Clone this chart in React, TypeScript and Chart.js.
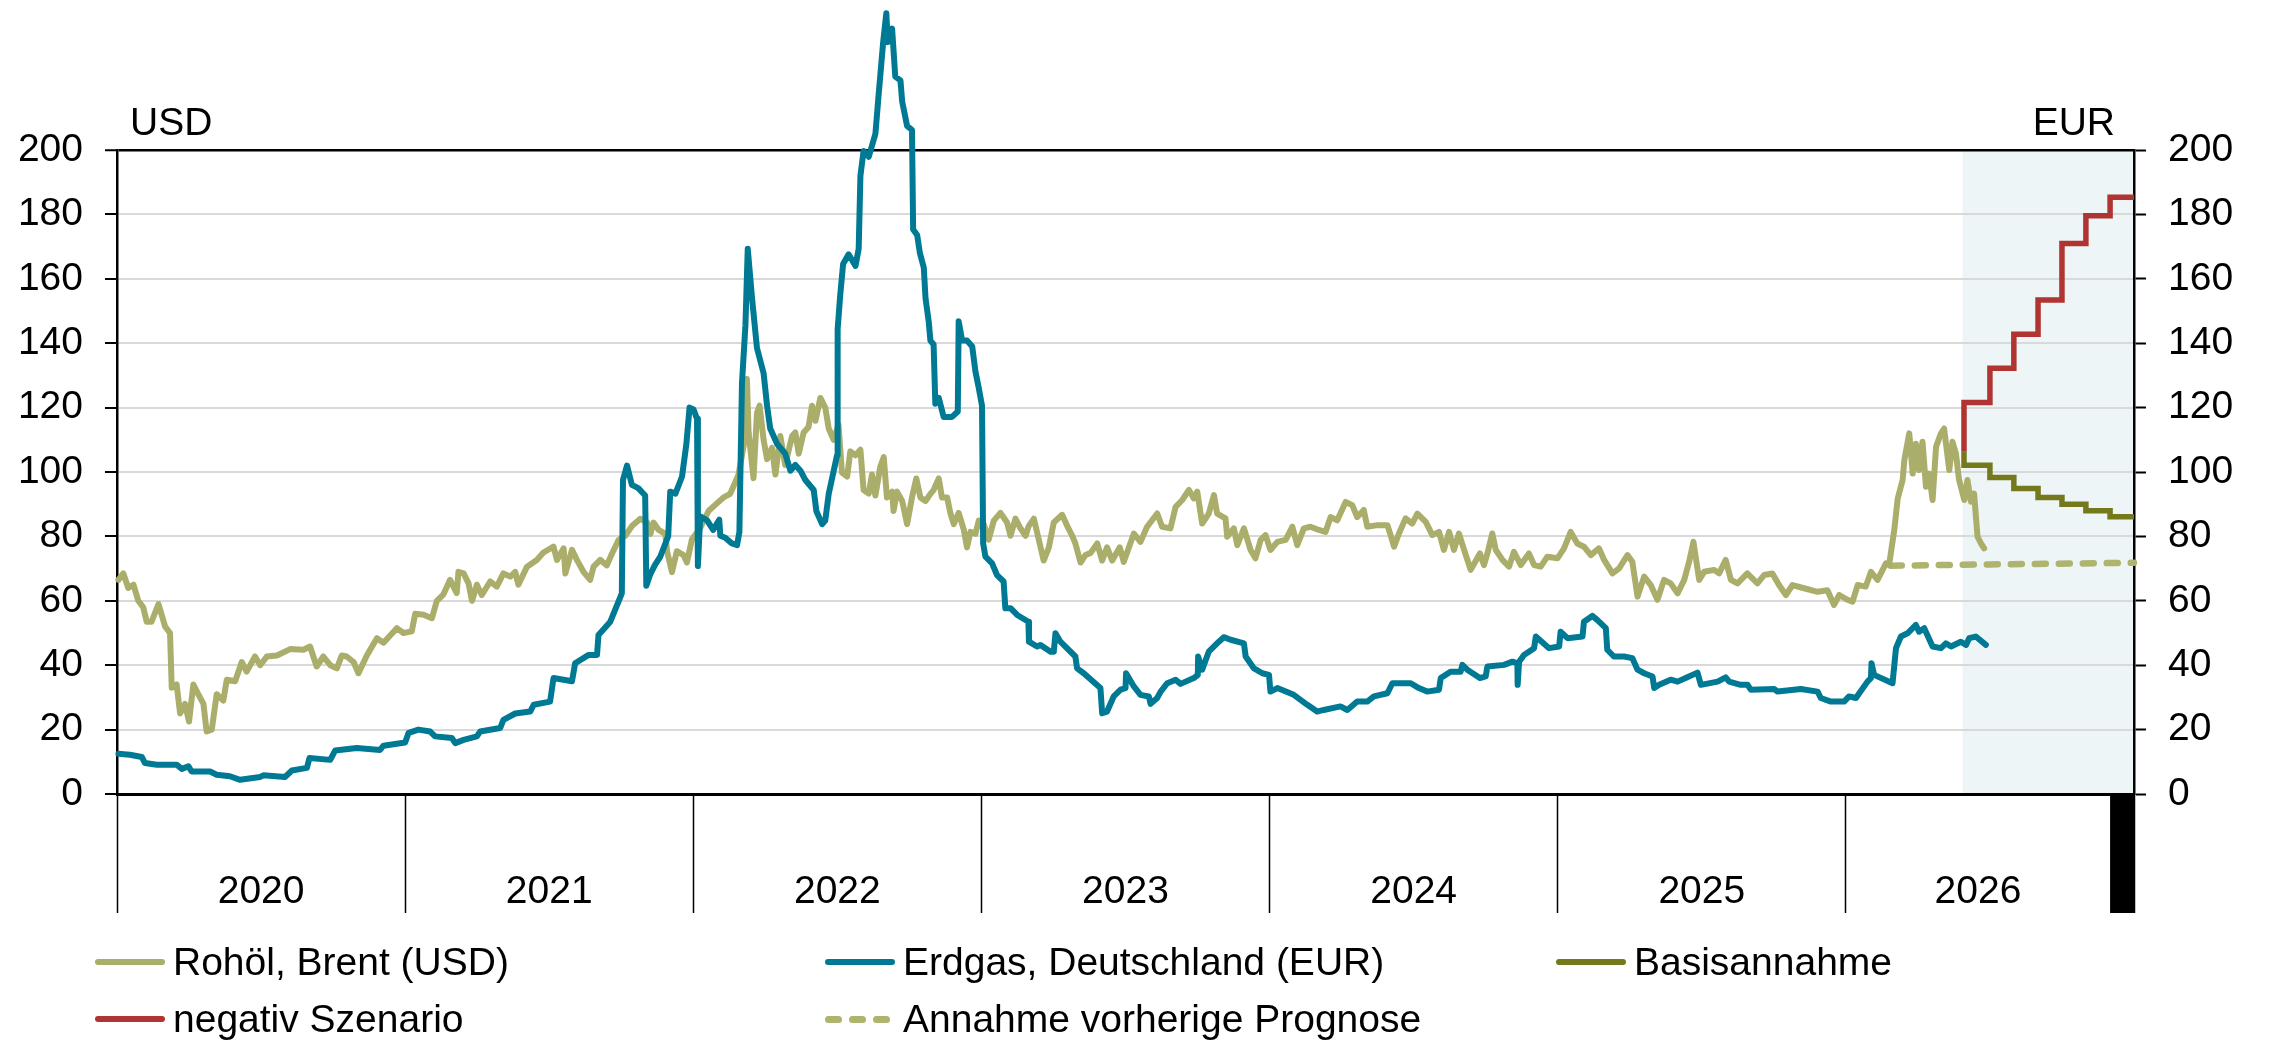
import React, { useEffect, useRef } from 'react';
import { Chart, registerables } from 'chart.js';

Chart.register(...registerables);

const FONT = '"Liberation Sans", Arial, Helvetica, sans-serif';

// ---------- data ----------
const brentDates = [
  2020.005, 2020.022, 2020.039, 2020.057, 2020.074, 2020.091, 2020.103, 2020.120, 2020.144, 2020.167,
  2020.184, 2020.190, 2020.207, 2020.219, 2020.236, 2020.250, 2020.265, 2020.282, 2020.300, 2020.311,
  2020.329, 2020.346, 2020.369, 2020.381, 2020.410, 2020.433, 2020.450, 2020.479, 2020.497, 2020.520,
  2020.555, 2020.601, 2020.647, 2020.670, 2020.693, 2020.716, 2020.740, 2020.763, 2020.780, 2020.797,
  2020.821, 2020.838, 2020.867, 2020.902, 2020.925, 2020.971, 2020.994, 2021.023, 2021.035, 2021.064,
  2021.093, 2021.110, 2021.133, 2021.156, 2021.179, 2021.185, 2021.203, 2021.220, 2021.232, 2021.249,
  2021.266, 2021.295, 2021.318, 2021.341, 2021.365, 2021.382, 2021.393, 2021.423, 2021.457, 2021.480,
  2021.515, 2021.527, 2021.550, 2021.556, 2021.579, 2021.596, 2021.619, 2021.642, 2021.654, 2021.677,
  2021.700, 2021.718, 2021.741, 2021.764, 2021.787, 2021.816, 2021.839, 2021.851, 2021.862, 2021.880,
  2021.903, 2021.909, 2021.926, 2021.943, 2021.966, 2021.978, 2021.995, 2022.024, 2022.053, 2022.076,
  2022.105, 2022.128, 2022.146, 2022.157, 2022.181, 2022.186, 2022.192, 2022.209, 2022.221, 2022.230,
  2022.244, 2022.256, 2022.273, 2022.285, 2022.302, 2022.319, 2022.343, 2022.354, 2022.366, 2022.383,
  2022.400, 2022.412, 2022.424, 2022.441, 2022.458, 2022.470, 2022.487, 2022.504, 2022.516, 2022.534,
  2022.545, 2022.563, 2022.580, 2022.591, 2022.609, 2022.620, 2022.632, 2022.649, 2022.661, 2022.672,
  2022.690, 2022.695, 2022.707, 2022.725, 2022.742, 2022.759, 2022.774, 2022.788, 2022.806, 2022.823,
  2022.834, 2022.852, 2022.863, 2022.881, 2022.892, 2022.904, 2022.921, 2022.939, 2022.950, 2022.962,
  2022.979, 2022.991, 2023.008, 2023.025, 2023.043, 2023.066, 2023.089, 2023.101, 2023.118, 2023.135,
  2023.153, 2023.164, 2023.182, 2023.199, 2023.216, 2023.234, 2023.251, 2023.280, 2023.298, 2023.315,
  2023.326, 2023.344, 2023.361, 2023.378, 2023.402, 2023.419, 2023.436, 2023.454, 2023.480, 2023.494,
  2023.529, 2023.552, 2023.575, 2023.610, 2023.627, 2023.656, 2023.674, 2023.697, 2023.720, 2023.737,
  2023.749, 2023.766, 2023.789, 2023.807, 2023.818, 2023.847, 2023.853, 2023.876, 2023.888, 2023.911,
  2023.934, 2023.951, 2023.969, 2023.986, 2024.003, 2024.027, 2024.056, 2024.079, 2024.096, 2024.119,
  2024.142, 2024.171, 2024.194, 2024.212, 2024.235, 2024.264, 2024.287, 2024.304, 2024.327, 2024.339,
  2024.374, 2024.409, 2024.420, 2024.432, 2024.449, 2024.472, 2024.495, 2024.513, 2024.542, 2024.565,
  2024.588, 2024.605, 2024.623, 2024.640, 2024.657, 2024.681, 2024.698, 2024.730, 2024.744, 2024.756,
  2024.773, 2024.785, 2024.808, 2024.831, 2024.848, 2024.872, 2024.900, 2024.918, 2024.941, 2024.964,
  2024.999, 2025.022, 2025.045, 2025.068, 2025.091, 2025.115, 2025.143, 2025.161, 2025.190, 2025.213,
  2025.242, 2025.259, 2025.277, 2025.300, 2025.323, 2025.346, 2025.369, 2025.392, 2025.416, 2025.439,
  2025.456, 2025.471, 2025.491, 2025.508, 2025.543, 2025.560, 2025.583, 2025.601, 2025.624, 2025.658,
  2025.693, 2025.716, 2025.745, 2025.768, 2025.792, 2025.815, 2025.855, 2025.902, 2025.936, 2025.959,
  2025.977, 2026.006, 2026.023, 2026.041, 2026.069, 2026.087, 2026.110, 2026.139, 2026.150, 2026.168,
  2026.180, 2026.197, 2026.203, 2026.220, 2026.232, 2026.243, 2026.254, 2026.266, 2026.278, 2026.289,
  2026.301, 2026.313, 2026.330, 2026.341, 2026.359, 2026.370, 2026.382, 2026.393, 2026.411, 2026.422,
  2026.434, 2026.445, 2026.457, 2026.469, 2026.480,
];
const brentValues = [
  66.5, 68.5, 64, 65, 60, 58, 53.5, 53.5, 59, 52,
  50, 33, 34, 25, 28, 22.5, 34, 31, 28, 19.4,
  20, 31, 29, 35.5, 35, 41, 38, 42.7, 40, 42.7,
  43, 45, 44.8, 45.8, 39.6, 42.7, 40, 39, 43, 42.7,
  41, 37.5, 43, 48.4, 47, 51.5, 50, 50.5, 56, 55.7,
  54.6, 60, 62, 66.5, 62.4, 69, 68.5, 65.4, 60, 65,
  61.8, 66, 64.4, 68.5, 67.5, 69, 65, 70.6, 72.7, 75,
  76.8, 72.7, 76.3, 68.5, 75.8, 72.7, 69, 66.5, 70.6, 72.7,
  71, 74.7, 78.9, 80.2, 83.2, 85.5, 84.4, 80.8, 84.3, 82,
  80.8, 75.4, 68.9, 75.4, 74.2, 71.9, 79, 82.6, 87.9, 89.8,
  92.1, 93.2, 96.9, 99.2, 111.2, 128.9, 112.3, 98.1, 118.3, 120.6,
  110, 104, 107.5, 99.2, 111.2, 102.2, 111.2, 112.3, 105.7, 112.3,
  114, 120.6, 115.9, 123, 120, 113.5, 110, 114.7, 99.8, 98.6,
  106.4, 105.2, 106.9, 94.4, 93.3, 99.2, 92.7, 101.6, 104.6, 92.1,
  93.9, 87.9, 93.9, 91, 83.8, 92.1, 98, 92.1, 91, 93.2,
  94.4, 98, 92.1, 92.1, 87.3, 83.8, 87.3, 82, 76.6, 81.4,
  80.8, 84.9, 83.8, 79, 84.9, 87.3, 84.3, 80.2, 85.5, 82.6,
  80.2, 83.2, 85.5, 79, 72.5, 76.6, 84.3, 86.7, 83.2, 80.2,
  77.8, 71.9, 74.2, 74.8, 77.8, 72.5, 76.6, 72.5, 76.6, 72.1,
  80.9, 78.3, 83, 87.1, 83, 82.5, 89.2, 91.3, 94.4, 91.8,
  93.9, 84, 87.1, 92.8, 87.1, 85.6, 79.9, 82.5, 77.3, 82.5,
  75.8, 73.2, 78.9, 80.4, 75.8, 78.3, 78.9, 83, 77.3, 82.5,
  83, 82, 81.4, 86, 85, 90.7, 89.7, 86, 88.2, 83,
  83.5, 83.5, 80.4, 76.8, 80.9, 85.6, 84, 87.1, 84.5, 80.4,
  81.4, 75.8, 81.4, 75.8, 80.9, 74.2, 69.6, 74.7, 71.1, 74.7,
  80.9, 75.8, 72.7, 70.6, 75.2, 71.1, 74.7, 71.1, 70.6, 73.7,
  73.2, 76.3, 81.4, 77.8, 76.8, 74.2, 76.3, 72.7, 68.5, 70.1,
  74.2, 72.1, 61.3, 67.5, 64.9, 60.3, 66.5, 65.4, 62.3, 66.5,
  72.1, 78.3, 66.5, 69, 69.6, 68.5, 72.7, 66.5, 65.4, 68.5,
  65.4, 68, 68.5, 64.9, 61.8, 64.9, 63.9, 62.8, 63.3, 58.7,
  61.8, 60.3, 59.7, 64.9, 64.4, 69, 66.5, 71.6, 71.1, 82,
  91.8, 97.5, 103.7, 112, 99.5, 108.8, 100.6, 109.4, 95.4, 99.5,
  91.3, 107.8, 112, 113.5, 100.6, 109.4, 105.7, 97.5, 91.3, 97.5,
  90.8, 93.3, 79.9, 77.8, 76.3,
];

const gasDates = [
  2020.005, 2020.045, 2020.086, 2020.097, 2020.138, 2020.207, 2020.225, 2020.248, 2020.259, 2020.323,
  2020.346, 2020.392, 2020.427, 2020.497, 2020.508, 2020.583, 2020.607, 2020.659, 2020.668, 2020.740,
  2020.757, 2020.832, 2020.913, 2020.925, 2021.000, 2021.012, 2021.046, 2021.087, 2021.104, 2021.162,
  2021.174, 2021.203, 2021.249, 2021.260, 2021.330, 2021.341, 2021.382, 2021.434, 2021.446, 2021.503,
  2021.515, 2021.579, 2021.590, 2021.637, 2021.666, 2021.671, 2021.712, 2021.752, 2021.756, 2021.770,
  2021.787, 2021.809, 2021.833, 2021.837, 2021.851, 2021.868, 2021.885, 2021.913, 2021.920, 2021.938,
  2021.961, 2021.976, 2021.987, 2022.001, 2022.013, 2022.016, 2022.024, 2022.048, 2022.069, 2022.090,
  2022.094, 2022.111, 2022.134, 2022.152, 2022.160, 2022.169, 2022.181, 2022.189, 2022.204, 2022.221,
  2022.244, 2022.256, 2022.267, 2022.291, 2022.319, 2022.337, 2022.354, 2022.372, 2022.389, 2022.418,
  2022.427, 2022.447, 2022.458, 2022.470, 2022.499, 2022.501, 2022.510, 2022.520, 2022.539, 2022.563,
  2022.574, 2022.580, 2022.591, 2022.609, 2022.632, 2022.643, 2022.659, 2022.670, 2022.675, 2022.690,
  2022.701, 2022.719, 2022.725, 2022.742, 2022.759, 2022.763, 2022.777, 2022.786, 2022.800, 2022.806,
  2022.817, 2022.823, 2022.834, 2022.840, 2022.852, 2022.869, 2022.898, 2022.918, 2022.921, 2022.933,
  2022.950, 2022.968, 2022.979, 2022.991, 2023.002, 2023.006, 2023.014, 2023.037, 2023.054, 2023.077,
  2023.083, 2023.101, 2023.124, 2023.163, 2023.165, 2023.193, 2023.205, 2023.240, 2023.251, 2023.257,
  2023.274, 2023.326, 2023.332, 2023.355, 2023.413, 2023.419, 2023.436, 2023.459, 2023.483, 2023.500,
  2023.502, 2023.529, 2023.552, 2023.581, 2023.587, 2023.610, 2023.622, 2023.645, 2023.674, 2023.691,
  2023.737, 2023.751, 2023.752, 2023.766, 2023.789, 2023.824, 2023.841, 2023.865, 2023.911, 2023.917,
  2023.946, 2023.975, 2023.998, 2024.003, 2024.027, 2024.084, 2024.131, 2024.165, 2024.188, 2024.246,
  2024.270, 2024.304, 2024.339, 2024.362, 2024.409, 2024.426, 2024.490, 2024.518, 2024.547, 2024.588,
  2024.594, 2024.628, 2024.663, 2024.669, 2024.686, 2024.730, 2024.750, 2024.756, 2024.814, 2024.843,
  2024.860, 2024.861, 2024.866, 2024.883, 2024.918, 2024.924, 2024.970, 2025.005, 2025.010, 2025.034,
  2025.086, 2025.091, 2025.120, 2025.138, 2025.167, 2025.172, 2025.195, 2025.230, 2025.259, 2025.277,
  2025.300, 2025.329, 2025.335, 2025.352, 2025.392, 2025.416, 2025.444, 2025.485, 2025.497, 2025.555,
  2025.583, 2025.595, 2025.635, 2025.659, 2025.670, 2025.751, 2025.763, 2025.844, 2025.902, 2025.913,
  2025.948, 2025.994, 2026.011, 2026.035, 2026.075, 2026.087, 2026.089, 2026.098, 2026.162, 2026.174,
  2026.191, 2026.214, 2026.243, 2026.254, 2026.272, 2026.301, 2026.330, 2026.347, 2026.365, 2026.399,
  2026.417, 2026.428, 2026.451, 2026.486,
];
const gasValues = [
  12.5, 12.2, 11.5, 9.6, 9.1, 9.1, 7.8, 8.6, 7, 7,
  6, 5.5, 4.4, 5.3, 5.8, 5.3, 7.3, 8.1, 11.2, 10.6,
  13.5, 14.3, 13.7, 15, 16, 19, 20, 19.4, 17.9, 17.4,
  15.8, 16.8, 17.9, 19.4, 20.5, 23, 25, 25.6, 27.7, 28.7,
  36, 35, 40.6, 43.2, 43.2, 49.4, 53.5, 62.3, 97.5, 102,
  96, 95, 92.7, 64.7, 68.3, 71.3, 73.6, 80.1, 93.9, 93.3,
  98.6, 108.7, 120, 119.4, 116.5, 70.8, 86.2, 85, 82, 85.2,
  80.2, 79.6, 77.8, 77.3, 81.4, 127.7, 145.6, 169.3, 153.9, 138.5,
  130.7, 120.6, 113.5, 108.7, 105.7, 100.4, 102.2, 100.4, 97.5, 94.4,
  87.9, 83.8, 84.9, 93.2, 105.2, 144.4, 155, 164.6, 167.6, 164,
  169.3, 192, 199.7, 197.9, 205, 216.9, 233.5, 242.5, 233.5, 237.7,
  222.8, 221.6, 215, 207.5, 206.2, 175.3, 173.6, 168.2, 163.4, 153.9,
  146.8, 140.8, 139.6, 121.2, 123, 117.1, 117.1, 118.8, 146.8, 140.8,
  140.8, 139, 131.3, 126, 120.6, 77.8, 73.7, 71.6, 68, 66,
  57.7, 57.7, 55.6, 53.5, 47.3, 45.8, 46.3, 44.2, 44.2, 49.9,
  47.3, 42.7, 39, 37.5, 32.9, 25.1, 25.6, 30.3, 32.4, 32.9,
  37.5, 33.4, 30.8, 30.3, 28, 29.8, 31.8, 34.4, 35.5, 34.2,
  36, 37, 42.7, 38.6, 44.2, 47.3, 48.7, 47.9, 46.8, 42.7,
  39, 37.5, 37, 31.8, 32.9, 30.8, 27.7, 25.6, 26.1, 27.2,
  26.1, 28.7, 28.7, 30.3, 31.3, 34.4, 34.4, 32.9, 31.8, 32.4,
  36, 38, 38, 40.1, 38.6, 36, 36.5, 39.6, 40.1, 41.1,
  40.6, 33.9, 41.1, 43.2, 45.3, 48.9, 45.3, 45.8, 50.4, 48.4,
  48.9, 53.5, 55.3, 54, 51.5, 44.8, 42.7, 42.7, 42.2, 38.6,
  37.5, 36.5, 32.9, 33.9, 35.5, 34.9, 36, 37.7, 33.9, 34.9,
  36.2, 34.9, 33.9, 33.9, 32.4, 32.6, 31.8, 32.6, 31.8, 29.8,
  28.7, 28.7, 30.3, 29.8, 34.9, 36, 40.6, 37, 34.4, 45.3,
  48.9, 49.9, 52.5, 50.4, 51.5, 45.8, 45.3, 46.8, 45.8, 47.3,
  46.3, 48.4, 48.9, 46.3,
];

// forecast scenarios (monthly steps)
const forecastDates = [2026.41, 2026.41, 2026.5, 2026.583, 2026.667, 2026.75, 2026.833, 2026.917, 2027];
const basisValues = [106.3, 102.1, 98.3, 94.9, 92.1, 90, 88, 86.1, 86.1];
const negativeValues = [106.3, 121.6, 132.2, 142.8, 153.4, 171, 179.6, 185.3, 185.3];
const priorDates = [2026.156, 2026.5, 2027];
const priorValues = [70.9, 71.3, 71.8];

const forecastStart = 2026.405;
const years = [2020, 2021, 2022, 2023, 2024, 2025, 2026];
const axisEnd = 2027;
const lastLabelEnd = 2026.917;
const yTicksMax = 200;

const seriesNames = [
  'Rohöl, Brent (USD)',
  'Erdgas, Deutschland (EUR)',
  'Basisannahme',
  'negativ Szenario',
  'Annahme vorherige Prognose',
];
const seriesColors = ['#aaae6a', '#007a94', '#747a1c', '#af3432', '#aeb36e'];

const zip = (xs: number[], ys: number[]) => xs.map((x, i) => ({ x, y: ys[i] }));

const xTickValues: number[] = [];
years.forEach((y) => {
  xTickValues.push(y);
  const end = Math.min(y + 1, lastLabelEnd);
  xTickValues.push((y + end) / 2);
});
xTickValues.push(axisEnd);

const isYear = (v: number) => Math.abs(v - Math.round(v)) < 1e-6;

const decorPlugin = {
  id: 'decor',
  beforeDraw(chart: any) {
    const { ctx, chartArea, scales } = chart;
    const x0 = scales.x.getPixelForValue(forecastStart);
    ctx.save();
    ctx.fillStyle = '#edf5f7';
    ctx.fillRect(x0, chartArea.top, chartArea.right - x0, chartArea.bottom - chartArea.top);
    ctx.restore();
  },
  afterDraw(chart: any) {
    const { ctx, chartArea, scales } = chart;
    const xa = scales.x.getPixelForValue(lastLabelEnd);
    const xb = scales.x.getPixelForValue(axisEnd);
    ctx.save();
    ctx.fillStyle = '#000';
    ctx.fillRect(xa, chartArea.bottom, xb - xa, 119);
    ctx.font = `39px ${FONT}`;
    ctx.textBaseline = 'alphabetic';
    ctx.textAlign = 'left';
    ctx.fillText('USD', chartArea.left + 13, chartArea.top - 15);
    ctx.textAlign = 'right';
    ctx.fillText('EUR', chartArea.right - 19, chartArea.top - 15);
    ctx.restore();
  },
};

export default function App() {
  const ref = useRef<HTMLCanvasElement>(null);

  useEffect(() => {
    const tickFont = { family: FONT, size: 39 };
    const common = {
      pointRadius: 0,
      pointHoverRadius: 0,
      tension: 0,
      borderJoinStyle: 'round' as const,
      borderCapStyle: 'round' as const,
      clip: false as any,
    };
    const chart = new Chart(ref.current as HTMLCanvasElement, {
      type: 'line',
      data: {
        datasets: [
          { ...common, label: seriesNames[1], data: zip(gasDates, gasValues), yAxisID: 'y1', borderColor: seriesColors[1], borderWidth: 6, order: 0 },
          { ...common, label: seriesNames[0], data: zip(brentDates, brentValues), yAxisID: 'y', borderColor: seriesColors[0], borderWidth: 6, order: 1 },
          { ...common, label: seriesNames[3], data: zip(forecastDates, negativeValues), yAxisID: 'y', borderColor: seriesColors[3], borderWidth: 5.5, stepped: 'before', borderJoinStyle: 'miter', borderCapStyle: 'butt', order: 2 },
          { ...common, label: seriesNames[2], data: zip(forecastDates, basisValues), yAxisID: 'y', borderColor: seriesColors[2], borderWidth: 5.5, stepped: 'before', borderJoinStyle: 'miter', borderCapStyle: 'butt', order: 3 },
          { ...common, label: seriesNames[4], data: zip(priorDates, priorValues), yAxisID: 'y', borderColor: seriesColors[4], borderWidth: 6.5, borderDash: [11, 13], order: 4 },
        ] as any,
      },
      options: {
        animation: false,
        responsive: false,
        devicePixelRatio: 1,
        events: [],
        layout: { padding: { top: 150, left: 0, right: 0, bottom: 0 } },
        plugins: { legend: { display: false }, tooltip: { enabled: false } },
        scales: {
          x: {
            type: 'linear',
            min: 2020,
            max: axisEnd,
            afterBuildTicks: (scale: any) => {
              scale.ticks = xTickValues.map((value) => ({ value }));
            },
            afterFit: (scale: any) => {
              scale.height = 249;
            },
            grid: {
              drawOnChartArea: false,
              drawTicks: true,
              tickLength: 119,
              tickWidth: 1.5,
              tickColor: (ctx: any) => (ctx.tick && isYear(ctx.tick.value) ? '#000' : 'rgba(0,0,0,0)'),
              color: 'rgba(0,0,0,0)',
            },
            border: { display: true, color: '#000', width: 3 },
            ticks: {
              autoSkip: false,
              maxRotation: 0,
              minRotation: 0,
              padding: -44,
              color: '#000',
              font: tickFont,
              callback: (value: any) => (isYear(Number(value)) ? '' : String(Math.floor(Number(value)))),
            },
          },
          y: {
            type: 'linear',
            position: 'left',
            min: 0,
            max: yTicksMax,
            afterFit: (scale: any) => {
              scale.width = 117;
            },
            ticks: { stepSize: 20, padding: 22, color: '#000', font: tickFont },
            grid: {
              color: (ctx: any) => (ctx.tick && (ctx.tick.value === yTicksMax || ctx.tick.value === 0) ? '#000' : '#d9d9d9'),
              lineWidth: (ctx: any) => (ctx.tick && ctx.tick.value === yTicksMax ? 2.5 : 2),
              tickColor: '#000',
              tickLength: 12,
              tickWidth: 2,
            },
            border: { display: true, color: '#000', width: 2.5 },
          },
          y1: {
            type: 'linear',
            position: 'right',
            min: 0,
            max: yTicksMax,
            afterFit: (scale: any) => {
              scale.width = 135;
            },
            ticks: { stepSize: 20, padding: 22, color: '#000', font: tickFont },
            grid: {
              drawOnChartArea: false,
              tickColor: '#000',
              tickLength: 12,
              tickWidth: 2,
            },
            border: { display: true, color: '#000', width: 2.5 },
          },
        },
      } as any,
      plugins: [decorPlugin],
    });
    return () => chart.destroy();
  }, []);

  const legendOrder = [0, 1, 2, 3, 4];
  const colX = [95, 825, 1556];
  const rowY = [962, 1019];

  return (
    <div style={{ position: 'fixed', left: 0, top: 0, width: 2269, height: 1043, background: '#fff', overflow: 'hidden' }}>
      <canvas ref={ref} width={2269} height={1043} style={{ display: 'block', width: 2269, height: 1043 }} />
      {legendOrder.map((si, i) => {
        const x = colX[i % 3];
        const y = rowY[Math.floor(i / 3)];
        const dashed = si === 4;
        return (
          <div key={si} style={{ position: 'absolute', left: x, top: y - 23, height: 46, display: 'flex', alignItems: 'center' }}>
            {dashed ? (
              <div style={{ width: 70, height: 7, display: 'flex', gap: 7 }}>
                {[0, 1, 2].map((k) => (
                  <span key={k} style={{ width: 17, height: 7, borderRadius: 3.5, background: seriesColors[si], display: 'block' }} />
                ))}
              </div>
            ) : (
              <div style={{ width: 70, height: 6, borderRadius: 3, background: seriesColors[si] }} />
            )}
            <span style={{ marginLeft: 8, font: `39px/46px ${FONT}`, color: '#000', whiteSpace: 'nowrap' }}>{seriesNames[si]}</span>
          </div>
        );
      })}
    </div>
  );
}
